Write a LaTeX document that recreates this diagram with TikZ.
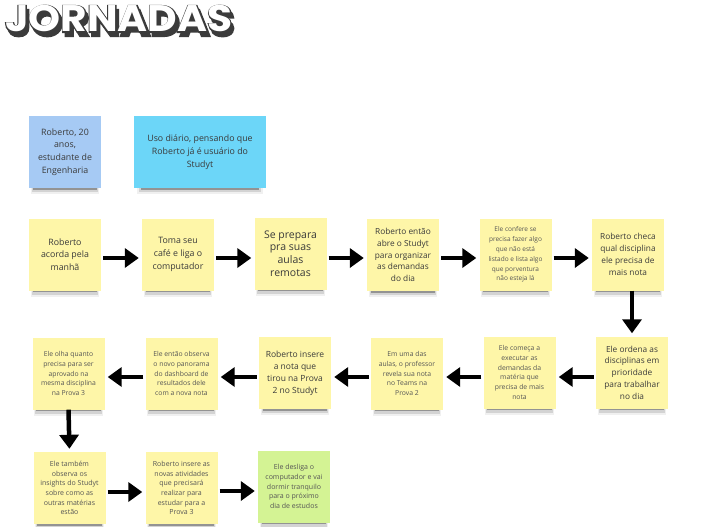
\documentclass[tikz,border=0pt]{standalone}
\usepackage{fontspec}
\setmainfont{Open Sans}
\newfontfamily\titlefont{Poppins Bold}
\newfontfamily\titlefat{Poppins Bold}[FakeBold=6]
\usetikzlibrary{arrows.meta,shadows}
\definecolor{stickyY}{HTML}{FEF6A8}
\definecolor{stickyB}{HTML}{A6CAF4}
\definecolor{stickyC}{HTML}{6CD6F8}
\definecolor{stickyG}{HTML}{D4F394}
\definecolor{inkdark}{HTML}{3A3A3A}
\definecolor{inksoft}{HTML}{555555}
\definecolor{titledark}{HTML}{3B3B3B}
\tikzset{
  note/.style={fill=stickyY, draw=none, inner sep=0pt, minimum width=72pt, minimum height=72pt,
    align=center, text=inkdark,
    general shadow={fill=black, opacity=0.06, shadow scale=0.95, shadow yshift=-8.5pt},
    general shadow={fill=black, opacity=0.12, shadow scale=0.93, shadow yshift=-7.5pt},
    general shadow={fill=black, opacity=0.30, shadow scale=0.90, shadow yshift=-6pt}},
  fbig/.style={font=\fontsize{10.5}{12.7}\selectfont},
  fmed/.style={font=\fontsize{8.8}{12.7}\selectfont},
  fmid/.style={font=\fontsize{8.3}{11.8}\selectfont},
  fsmall/.style={font=\fontsize{6.8}{9.8}\selectfont, text=inksoft},
  bigarrow/.style={line width=4.5pt, black, -{Triangle[length=14pt,width=19pt]}, shorten >=3pt, shorten <=2pt},
  titlecopy/.style={anchor=base west, inner sep=0pt}
}
\begin{document}
\begin{tikzpicture}[x=1pt,y=-1pt]
\useasboundingbox (0,0) rectangle (704,527);
% title
\node[titlecopy, text=titledark] (tshadow) at (7.5,36)
  {\scalebox{1.1}[1]{\titlefat\fontsize{37}{37}\selectfont JORNADAS}};
\node[titlecopy, text=titledark] (toutline) at (5,32)
  {\scalebox{1.1}[1]{\titlefat\fontsize{37}{37}\selectfont JORNADAS}};
\node[titlecopy, text=white] (title) at (5,32)
  {\scalebox{1.1}[1]{\titlefont\fontsize{37}{37}\selectfont JORNADAS}};

% persona notes
\node[note, fill=stickyB, fmed] (p1) at (65,152) {Roberto, 20\\anos,\\estudante de\\Engenharia};
\node[note, fill=stickyC, fmed, minimum width=132pt] (p2) at (200,152) {Uso diário, pensando que\\Roberto já é usuário do\\Studyt};

% row 1
\node[note, fmed] (a1) at (65,254.5) {Roberto\\acorda pela\\manhã};
\node[note, fmed] (a2) at (178,254.5) {Toma seu\\café e liga o\\computador};
\node[note, fbig] (a3) at (290.5,253.5) {Se prepara\\pra suas\\aulas\\remotas};
\node[note, fmid] (a4) at (403,255) {Roberto então\\abre o Studyt\\para organizar\\as demandas\\do dia};
\node[note, fsmall, font=\fontsize{6.5}{9.9}\selectfont] (a5) at (515.5,254.5) {Ele confere se\\precisa fazer algo\\que não está\\listado e lista algo\\que porventura\\não esteja lá};
\node[note, fmid] (a6) at (628,254.5) {Roberto checa\\qual disciplina\\ele precisa de\\mais nota};

% row 2
\node[note, fmid] (b1) at (632,372.5) {Ele ordena as\\disciplinas em\\prioridade\\para trabalhar\\no dia};
\node[note, fsmall] (b2) at (519.5,372.5) {Ele começa a\\executar as\\demandas da\\matéria que\\precisa de mais\\nota};
\node[note, fsmall] (b3) at (407,373.5) {Em uma das\\aulas, o professor\\revela sua nota\\no Teams na\\Prova 2};
\node[note, fmid, font=\fontsize{8.5}{12}\selectfont] (b4) at (295,373) {Roberto insere\\a nota que\\tirou na Prova\\2 no Studyt};
\node[note, fsmall] (b5) at (181.5,373.5) {Ele então observa\\o novo panorama\\do dashboard de\\resultados dele\\com a nova nota};
\node[note, fsmall] (b6) at (68.5,373.5) {Ele olha quanto\\precisa para ser\\aprovado na\\mesma disciplina\\na Prova 3};

% row 3
\node[note, fsmall, font=\fontsize{7}{9.7}\selectfont] (c1) at (69.5,488) {Ele também\\observa os\\insights do Studyt\\sobre como as\\outras matérias\\estão};
\node[note, fsmall, font=\fontsize{7}{9.7}\selectfont] (c2) at (181.5,488) {Roberto insere as\\novas atividades\\que precisará\\realizar para\\estudar para a\\Prova 3};
\node[note, fill=stickyG, fsmall, font=\fontsize{7}{9.7}\selectfont] (c3) at (294,486.5) {Ele desliga o\\computador e vai\\dormir tranquilo\\para o próximo\\dia de estudos};

% arrows
\draw[bigarrow] ([yshift=-3.5pt]a1.east) -- ([yshift=-3.5pt]a1.east -| a2.west);
\draw[bigarrow] ([yshift=-3.5pt]a2.east) -- ([yshift=-3.5pt]a2.east -| a3.west);
\draw[bigarrow] ([yshift=-4.5pt]a3.east) -- ([yshift=-4.5pt]a3.east -| a4.west);
\draw[bigarrow] ([yshift=-3pt]a4.east) -- ([yshift=-3pt]a4.east -| a5.west);
\draw[bigarrow] ([yshift=-3.5pt]a5.east) -- ([yshift=-3.5pt]a5.east -| a6.west);
\draw[bigarrow, shorten <=0pt] ([xshift=4pt]a6.south) -- (b1.north);
\draw[bigarrow] ([yshift=-4.5pt]b1.west) -- ([yshift=-4.5pt]b1.west -| b2.east);
\draw[bigarrow] ([yshift=-4.5pt]b2.west) -- ([yshift=-4.5pt]b2.west -| b3.east);
\draw[bigarrow] ([yshift=-3.5pt]b3.west) -- ([yshift=-3.5pt]b3.west -| b4.east);
\draw[bigarrow] ([yshift=-4pt]b4.west) -- ([yshift=-4pt]b4.west -| b5.east);
\draw[bigarrow] ([yshift=-3.5pt]b5.west) -- ([yshift=-3.5pt]b5.west -| b6.east);
\draw[bigarrow, shorten <=0pt] (b6.south) -- (c1.north);
\draw[bigarrow] ([yshift=-4pt]c1.east) -- ([yshift=-4pt]c1.east -| c2.west);
\draw[bigarrow] ([yshift=-3pt]c2.east) -- ([yshift=-3pt]c2.east -| c3.west);
\end{tikzpicture}
\end{document}
